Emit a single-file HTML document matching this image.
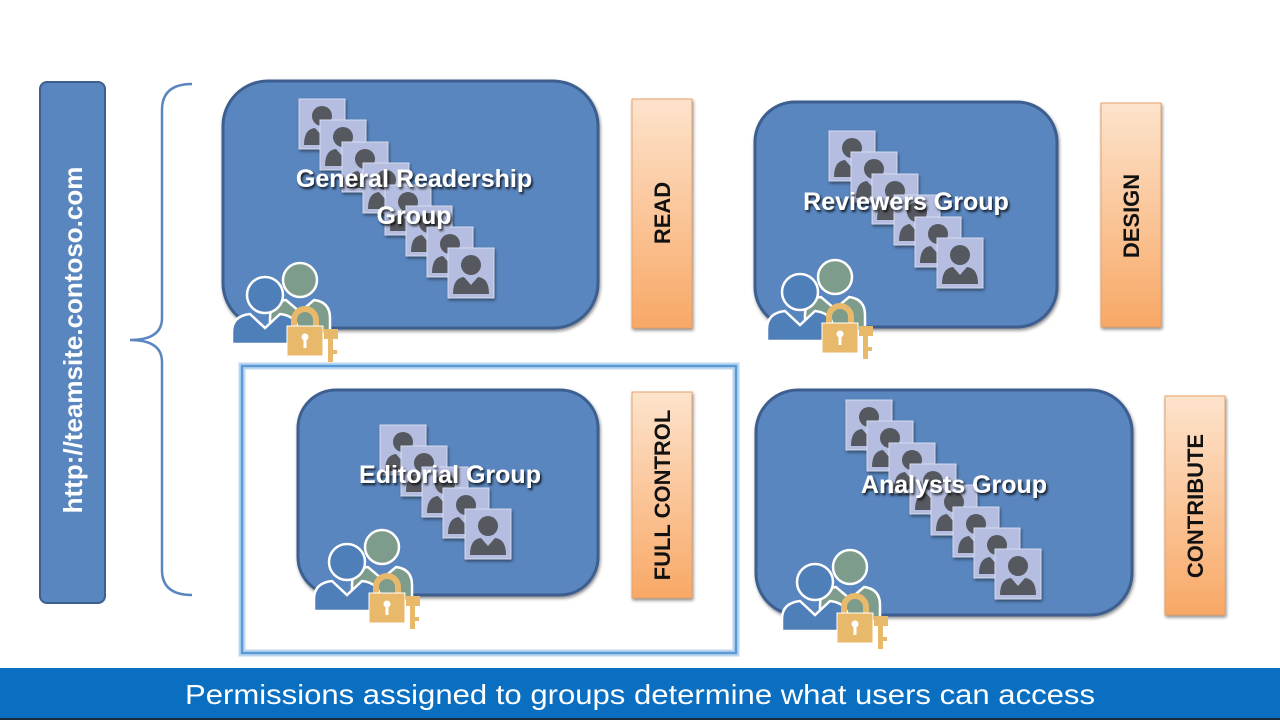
<!DOCTYPE html>
<html><head><meta charset="utf-8"><style>
html,body{margin:0;padding:0;background:#fff;width:1280px;height:720px;overflow:hidden}
svg{display:block}
.lbl{font-family:"Liberation Sans",sans-serif;font-weight:bold;font-size:25px;fill:#fff;text-anchor:middle}
.perm{font-family:"Liberation Sans",sans-serif;font-weight:bold;font-size:22px;fill:#111;text-anchor:middle}
</style></head><body>
<svg width="1280" height="720" viewBox="0 0 1280 720">
<defs>
<linearGradient id="og" x1="0" y1="0" x2="0" y2="1"><stop offset="0" stop-color="#fde3cc"/><stop offset="1" stop-color="#f8a866"/></linearGradient>
<filter id="sh" x="-20%" y="-20%" width="140%" height="140%"><feDropShadow dx="1" dy="2" stdDeviation="1.5" flood-color="#000" flood-opacity="0.45"/></filter>
<filter id="ts"><feDropShadow dx="1.5" dy="2" stdDeviation="1.2" flood-color="#000" flood-opacity="0.85"/></filter>
<symbol id="tile" viewBox="0 0 46 50" overflow="visible">
<rect x="0" y="0" width="46" height="50" fill="#b5bee0" stroke="#d6dcef" stroke-width="1"/>
<circle cx="23" cy="17" r="10" fill="#55585f"/>
<path d="M5 46 Q5 30 16 29 L23 37 L30 29 Q41 30 41 46 Z" fill="#55585f"/>
</symbol>
<symbol id="users" viewBox="0 0 110 105" overflow="visible">
<circle cx="70" cy="22" r="17" fill="#7d9c8c" stroke="#fff" stroke-width="2.5"/>
<path d="M40 76 L40 60 Q40 44 56 42 L70 54 L84 42 Q100 44 100 60 L100 76 Z" fill="#7d9c8c" stroke="#fff" stroke-width="2.5"/>
<circle cx="35" cy="37" r="18" fill="#4f7fb8" stroke="#fff" stroke-width="2.5"/>
<path d="M2 86 L2 74 Q2 58 20 56 L35 70 L50 56 Q68 58 68 74 L68 86 Z" fill="#4f7fb8" stroke="#fff" stroke-width="2.5"/>
<path d="M64 70 V62 A11 11 0 0 1 86 62 V70" fill="none" stroke="#e8b96a" stroke-width="6"/>
<rect x="57" y="68" width="36" height="30" fill="#e8b96a" stroke="#fff" stroke-width="1"/>
<circle cx="75" cy="79" r="3.5" fill="#fff"/><rect x="73.5" y="80" width="3" height="10" fill="#fff"/>
<rect x="94" y="71" width="14" height="10" fill="#e8b96a"/><rect x="98" y="80" width="5" height="24" fill="#e8b96a"/><rect x="103" y="92" width="4" height="4" fill="#e8b96a"/>
</symbol>
</defs>

<rect x="40" y="82" width="65" height="521" rx="7" fill="#5a86bf" stroke="#3d5f8f" stroke-width="2"/>
<text transform="translate(82,340) rotate(-90)" font-family="Liberation Sans,sans-serif" font-weight="bold" font-size="26" fill="#fff" text-anchor="middle">http://teamsite.contoso.com</text>
<path d="M192 84 Q162 84 162 110 L162 318 Q162 340 130 340 Q162 340 162 362 L162 570 Q162 595 192 595" fill="none" stroke="#5a86bf" stroke-width="2.5"/>

<rect x="242" y="366" width="494" height="287" fill="none" stroke="#bcd6f0" stroke-width="7"/>
<rect x="242" y="366" width="494" height="287" fill="none" stroke="#5b9bd5" stroke-width="2.5"/>

<rect x="223" y="81" width="375" height="247" rx="45" fill="#5a86bf" stroke="#3d5f8f" stroke-width="3" filter="url(#sh)"/>
<rect x="755" y="102" width="302" height="225" rx="40" fill="#5a86bf" stroke="#3d5f8f" stroke-width="3" filter="url(#sh)"/>
<rect x="298" y="390" width="300" height="205" rx="38" fill="#5a86bf" stroke="#3d5f8f" stroke-width="3" filter="url(#sh)"/>
<rect x="756" y="390" width="376" height="225" rx="42" fill="#5a86bf" stroke="#3d5f8f" stroke-width="3" filter="url(#sh)"/>

<g filter="url(#sh)">
<use href="#tile" x="299" y="99" width="46" height="50"/>
<use href="#tile" x="320" y="120" width="46" height="50"/>
<use href="#tile" x="342" y="142" width="46" height="50"/>
<use href="#tile" x="363" y="163" width="46" height="50"/>
<use href="#tile" x="385" y="185" width="46" height="50"/>
<use href="#tile" x="406" y="206" width="46" height="50"/>
<use href="#tile" x="427" y="227" width="46" height="50"/>
<use href="#tile" x="448" y="248" width="46" height="50"/>
</g>
<g filter="url(#sh)">
<use href="#tile" x="829" y="131" width="46" height="50"/>
<use href="#tile" x="851" y="152" width="46" height="50"/>
<use href="#tile" x="872" y="174" width="46" height="50"/>
<use href="#tile" x="894" y="195" width="46" height="50"/>
<use href="#tile" x="915" y="217" width="46" height="50"/>
<use href="#tile" x="937" y="238" width="46" height="50"/>
</g>
<g filter="url(#sh)">
<use href="#tile" x="380" y="425" width="46" height="50"/>
<use href="#tile" x="401" y="446" width="46" height="50"/>
<use href="#tile" x="422" y="467" width="46" height="50"/>
<use href="#tile" x="443" y="488" width="46" height="50"/>
<use href="#tile" x="465" y="509" width="46" height="50"/>
</g>
<g filter="url(#sh)">
<use href="#tile" x="846" y="400" width="46" height="50"/>
<use href="#tile" x="867" y="421" width="46" height="50"/>
<use href="#tile" x="889" y="443" width="46" height="50"/>
<use href="#tile" x="910" y="464" width="46" height="50"/>
<use href="#tile" x="931" y="485" width="46" height="50"/>
<use href="#tile" x="953" y="507" width="46" height="50"/>
<use href="#tile" x="974" y="528" width="46" height="50"/>
<use href="#tile" x="995" y="549" width="46" height="50"/>
</g>

<use href="#users" x="230" y="258" width="110" height="105"/>
<use href="#users" x="765" y="255" width="110" height="105"/>
<use href="#users" x="312" y="525" width="110" height="105"/>
<use href="#users" x="780" y="545" width="110" height="105"/>

<g filter="url(#ts)">
<text class="lbl" x="414" y="187">General Readership</text>
<text class="lbl" x="414" y="224">Group</text>
<text class="lbl" x="906" y="210">Reviewers Group</text>
<text class="lbl" x="450" y="483">Editorial Group</text>
<text class="lbl" x="954" y="493">Analysts Group</text>
</g>

<g filter="url(#sh)">
<rect x="632" y="99" width="60" height="229" fill="url(#og)" stroke="#e9a26a" stroke-width="1"/>
<rect x="1101" y="103" width="60" height="224" fill="url(#og)" stroke="#e9a26a" stroke-width="1"/>
<rect x="632" y="392" width="60" height="206" fill="url(#og)" stroke="#e9a26a" stroke-width="1"/>
<rect x="1165" y="396" width="60" height="219" fill="url(#og)" stroke="#e9a26a" stroke-width="1"/>
</g>
<text class="perm" transform="translate(670,213) rotate(-90)">READ</text>
<text class="perm" transform="translate(1139,216) rotate(-90)">DESIGN</text>
<text class="perm" transform="translate(670,495) rotate(-90)">FULL CONTROL</text>
<text class="perm" transform="translate(1203,506) rotate(-90)">CONTRIBUTE</text>

<rect x="0" y="668" width="1280" height="50" fill="#0a6fc0"/>
<rect x="0" y="718" width="1280" height="2" fill="#1a2a3a"/>
<text x="640" y="704" font-family="Liberation Sans Narrow,Liberation Sans,sans-serif" font-size="28" fill="#fff" text-anchor="middle" textLength="910" lengthAdjust="spacingAndGlyphs">Permissions assigned to groups determine what users can access</text>
</svg>
</body></html>
